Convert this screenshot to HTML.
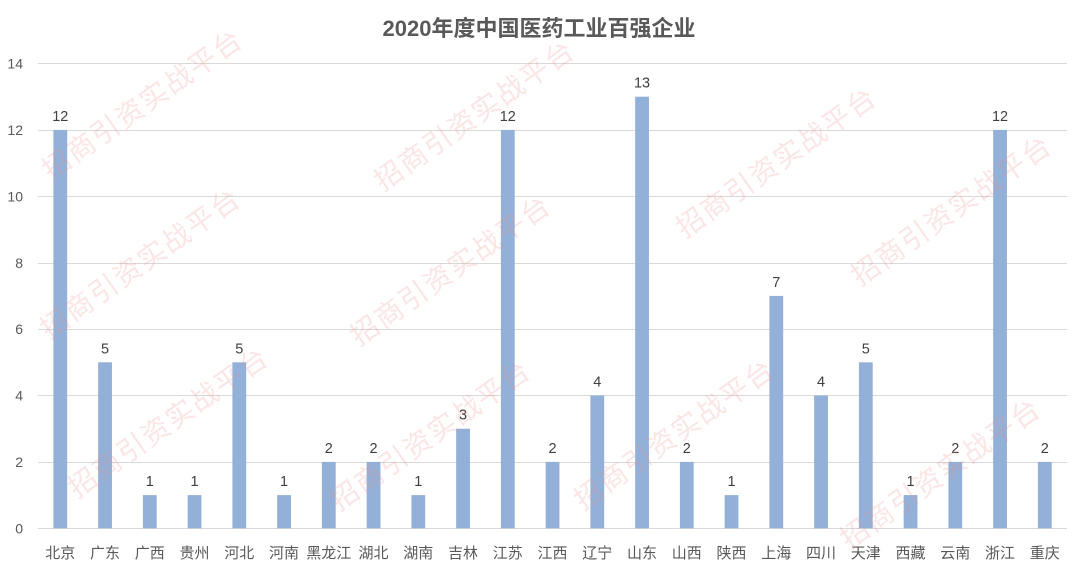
<!DOCTYPE html>
<html>
<head>
<meta charset="utf-8">
<style>
  html, body { margin: 0; padding: 0; background: #ffffff; }
  svg { display: block; }
  .t { font-family: "Liberation Sans", "Noto Sans CJK SC", sans-serif; }
</style>
</head>
<body>
<svg width="1080" height="572" viewBox="0 0 1080 572" xmlns="http://www.w3.org/2000/svg">
  <rect x="0" y="0" width="1080" height="572" fill="#ffffff"/>

  <!-- Title -->
  <text class="t" x="539" y="36" text-anchor="middle" font-size="22" font-weight="bold" fill="#595959">2020年度中国医药工业百强企业</text>

  <!-- Gridlines -->
  <g stroke="#d9d9d9" stroke-width="1">
    <line x1="38" y1="63.5" x2="1067" y2="63.5"/>
    <line x1="38" y1="130.5" x2="1067" y2="130.5"/>
    <line x1="38" y1="196.5" x2="1067" y2="196.5"/>
    <line x1="38" y1="263.5" x2="1067" y2="263.5"/>
    <line x1="38" y1="329.5" x2="1067" y2="329.5"/>
    <line x1="38" y1="395.5" x2="1067" y2="395.5"/>
    <line x1="38" y1="462.5" x2="1067" y2="462.5"/>
    <line x1="38" y1="528.5" x2="1067" y2="528.5"/>
  </g>

  <!-- Y tick labels -->
  <g class="t" font-size="14" fill="#595959" text-anchor="end">
    <text x="23" y="68.5">14</text>
    <text x="23" y="135">12</text>
    <text x="23" y="201.5">10</text>
    <text x="23" y="268">8</text>
    <text x="23" y="334">6</text>
    <text x="23" y="400.5">4</text>
    <text x="23" y="467">2</text>
    <text x="23" y="533.5">0</text>
  </g>

  <!-- Bars -->
  <g fill="#93b1d8">
    <rect x="53.4" y="129.9" width="13.8" height="398.4"/>
    <rect x="98.15" y="362.3" width="13.8" height="166"/>
    <rect x="142.9" y="495.1" width="13.8" height="33.2"/>
    <rect x="187.65" y="495.1" width="13.8" height="33.2"/>
    <rect x="232.4" y="362.3" width="13.8" height="166"/>
    <rect x="277.15" y="495.1" width="13.8" height="33.2"/>
    <rect x="321.9" y="461.9" width="13.8" height="66.4"/>
    <rect x="366.65" y="461.9" width="13.8" height="66.4"/>
    <rect x="411.4" y="495.1" width="13.8" height="33.2"/>
    <rect x="456.15" y="428.7" width="13.8" height="99.6"/>
    <rect x="500.9" y="129.9" width="13.8" height="398.4"/>
    <rect x="545.65" y="461.9" width="13.8" height="66.4"/>
    <rect x="590.4" y="395.5" width="13.8" height="132.8"/>
    <rect x="635.15" y="96.7" width="13.8" height="431.6"/>
    <rect x="679.9" y="461.9" width="13.8" height="66.4"/>
    <rect x="724.65" y="495.1" width="13.8" height="33.2"/>
    <rect x="769.4" y="295.9" width="13.8" height="232.4"/>
    <rect x="814.15" y="395.5" width="13.8" height="132.8"/>
    <rect x="858.9" y="362.3" width="13.8" height="166"/>
    <rect x="903.65" y="495.1" width="13.8" height="33.2"/>
    <rect x="948.4" y="461.9" width="13.8" height="66.4"/>
    <rect x="993.15" y="129.9" width="13.8" height="398.4"/>
    <rect x="1037.9" y="461.9" width="13.8" height="66.4"/>
  </g>

  <!-- Data labels -->
  <g class="t" font-size="14.5" fill="#404040" text-anchor="middle">
    <text x="60.3" y="120.9">12</text>
    <text x="105.05" y="353.3">5</text>
    <text x="149.8" y="486.1">1</text>
    <text x="194.55" y="486.1">1</text>
    <text x="239.3" y="353.3">5</text>
    <text x="284.05" y="486.1">1</text>
    <text x="328.8" y="452.9">2</text>
    <text x="373.55" y="452.9">2</text>
    <text x="418.3" y="486.1">1</text>
    <text x="463.05" y="419.7">3</text>
    <text x="507.8" y="120.9">12</text>
    <text x="552.55" y="452.9">2</text>
    <text x="597.3" y="386.5">4</text>
    <text x="642.05" y="87.7">13</text>
    <text x="686.8" y="452.9">2</text>
    <text x="731.55" y="486.1">1</text>
    <text x="776.3" y="286.9">7</text>
    <text x="821.05" y="386.5">4</text>
    <text x="865.8" y="353.3">5</text>
    <text x="910.55" y="486.1">1</text>
    <text x="955.3" y="452.9">2</text>
    <text x="1000.05" y="120.9">12</text>
    <text x="1044.8" y="452.9">2</text>
  </g>

  <!-- Category labels -->
  <g class="t" font-size="15" fill="#595959" text-anchor="middle">
    <text x="60.3" y="558">北京</text>
    <text x="105.05" y="558">广东</text>
    <text x="149.8" y="558">广西</text>
    <text x="194.55" y="558">贵州</text>
    <text x="239.3" y="558">河北</text>
    <text x="284.05" y="558">河南</text>
    <text x="328.8" y="558">黑龙江</text>
    <text x="373.55" y="558">湖北</text>
    <text x="418.3" y="558">湖南</text>
    <text x="463.05" y="558">吉林</text>
    <text x="507.8" y="558">江苏</text>
    <text x="552.55" y="558">江西</text>
    <text x="597.3" y="558">辽宁</text>
    <text x="642.05" y="558">山东</text>
    <text x="686.8" y="558">山西</text>
    <text x="731.55" y="558">陕西</text>
    <text x="776.3" y="558">上海</text>
    <text x="821.05" y="558">四川</text>
    <text x="865.8" y="558">天津</text>
    <text x="910.55" y="558">西藏</text>
    <text x="955.3" y="558">云南</text>
    <text x="1000.05" y="558">浙江</text>
    <text x="1044.8" y="558">重庆</text>
  </g>

  <!-- Watermarks -->
  <g class="t" font-size="28" fill="#ee8888" opacity="0.22" text-anchor="middle" dominant-baseline="central">
    <text transform="translate(142,105) rotate(-35.2)" textLength="236" lengthAdjust="spacing">招商引资实战平台</text>
    <text transform="translate(474,116) rotate(-35.2)" textLength="236" lengthAdjust="spacing">招商引资实战平台</text>
    <text transform="translate(776,163) rotate(-35.2)" textLength="236" lengthAdjust="spacing">招商引资实战平台</text>
    <text transform="translate(951,211) rotate(-35.2)" textLength="236" lengthAdjust="spacing">招商引资实战平台</text>
    <text transform="translate(140,264) rotate(-35.2)" textLength="236" lengthAdjust="spacing">招商引资实战平台</text>
    <text transform="translate(450,271) rotate(-35.2)" textLength="236" lengthAdjust="spacing">招商引资实战平台</text>
    <text transform="translate(168,423) rotate(-35.2)" textLength="236" lengthAdjust="spacing">招商引资实战平台</text>
    <text transform="translate(430,436) rotate(-35.2)" textLength="236" lengthAdjust="spacing">招商引资实战平台</text>
    <text transform="translate(674,435) rotate(-35.2)" textLength="236" lengthAdjust="spacing">招商引资实战平台</text>
    <text transform="translate(940,474) rotate(-35.2)" textLength="236" lengthAdjust="spacing">招商引资实战平台</text>
  </g>
</svg>
</body>
</html>
